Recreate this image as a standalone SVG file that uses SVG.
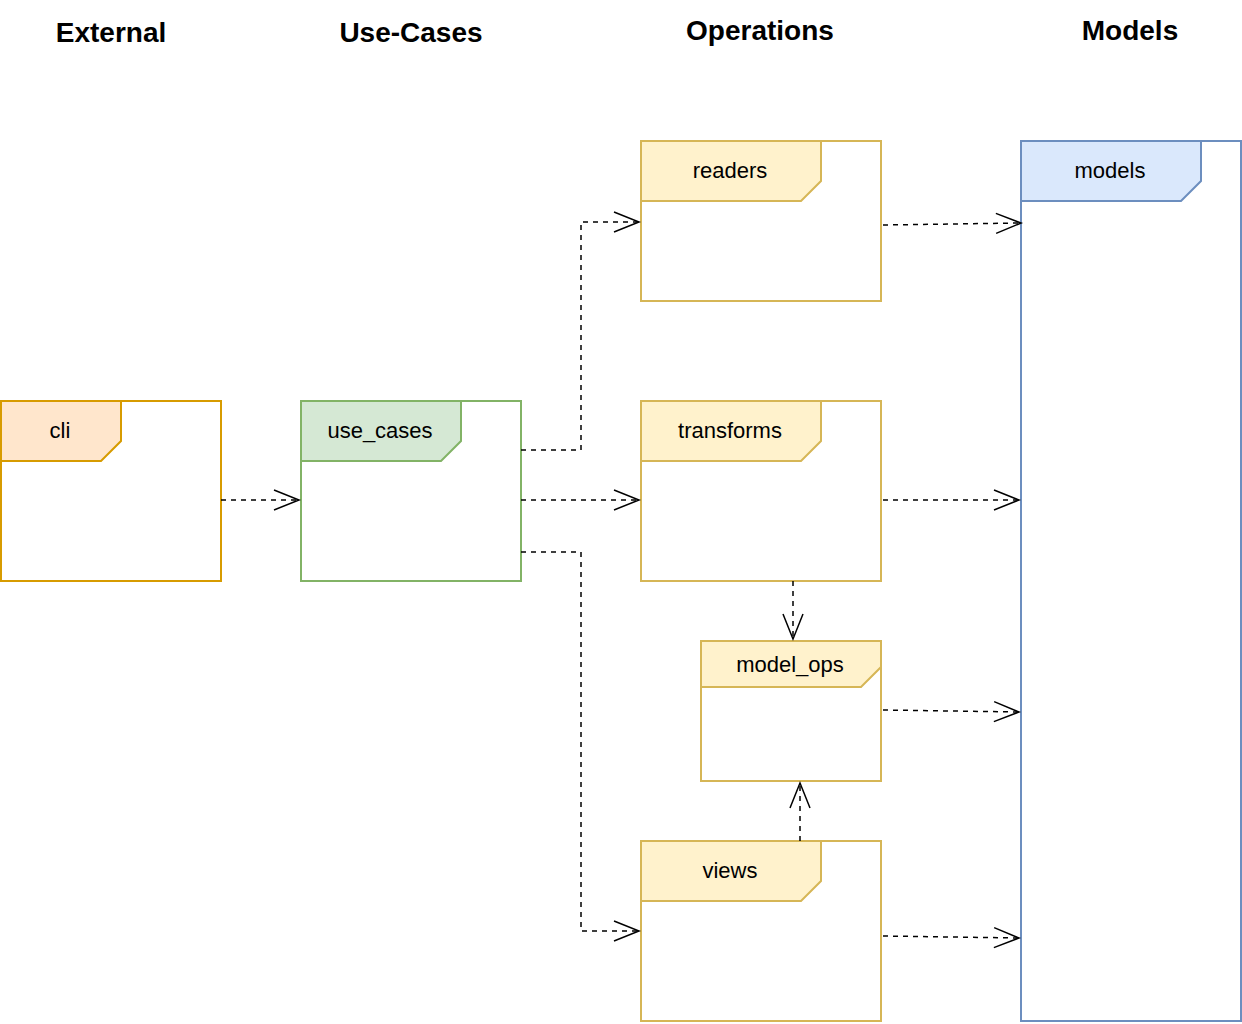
<svg xmlns="http://www.w3.org/2000/svg" width="1242" height="1024" viewBox="0 0 1242 1024">
<style>
.t{font-family:"Liberation Sans",Arial,sans-serif;font-weight:bold;font-size:28px;fill:#000;text-anchor:middle}
.l{font-family:"Liberation Sans",Arial,sans-serif;font-size:22px;fill:#000;text-anchor:middle}
.y{fill:#fff;stroke:#d6b656;stroke-width:2}
.yl{fill:#fff2cc;stroke:#d6b656;stroke-width:2}
.c{fill:none;stroke:#000;stroke-width:1.5;stroke-dasharray:5 5}
</style>
<defs>
<marker id="a" markerWidth="30" markerHeight="24" refX="27" refY="12" orient="auto" markerUnits="userSpaceOnUse">
<path d="M2,2 L27,12 L2,22" fill="none" stroke="#000" stroke-width="1.5"/>
</marker>
</defs>
<rect width="1242" height="1024" fill="#fff"/>
<text class="t" x="111" y="42">External</text>
<text class="t" x="411" y="42">Use-Cases</text>
<text class="t" x="760" y="40">Operations</text>
<text class="t" x="1130" y="40">Models</text>
<g id="cli"><rect x="1" y="401" width="220" height="180" fill="#fff" stroke="#d79b00" stroke-width="2"/><path d="M1,401H121V441L101,461H1Z" fill="#ffe6cc" stroke="#d79b00" stroke-width="2"/><text class="l" x="60" y="438">cli</text></g>
<g id="use_cases"><rect x="301" y="401" width="220" height="180" fill="#fff" stroke="#82b366" stroke-width="2"/><path d="M301,401H461V441L441,461H301Z" fill="#d5e8d4" stroke="#82b366" stroke-width="2"/><text class="l" x="380" y="438">use_cases</text></g>
<g id="readers"><rect class="y" x="641" y="141" width="240" height="160"/><path class="yl" d="M641,141H821V181L801,201H641Z"/><text class="l" x="730" y="178">readers</text></g>
<g id="transforms"><rect class="y" x="641" y="401" width="240" height="180"/><path class="yl" d="M641,401H821V441L801,461H641Z"/><text class="l" x="730" y="438">transforms</text></g>
<g id="model_ops"><rect class="y" x="701" y="641" width="180" height="140"/><path class="yl" d="M701,641H881V667L861,687H701Z"/><text class="l" x="790" y="672">model_ops</text></g>
<g id="views"><rect class="y" x="641" y="841" width="240" height="180"/><path class="yl" d="M641,841H821V881L801,901H641Z"/><text class="l" x="730" y="878">views</text></g>
<g id="models"><rect x="1021" y="141" width="220" height="880" fill="#fff" stroke="#6c8ebf" stroke-width="2"/><path d="M1021,141H1201V181L1181,201H1021Z" fill="#dae8fc" stroke="#6c8ebf" stroke-width="2"/><text class="l" x="1110" y="178">models</text></g>
<g id="connectors">
<path class="c" marker-end="url(#a)" d="M221,500H299"/>
<path class="c" marker-end="url(#a)" d="M521,450H581V222H639"/>
<path class="c" marker-end="url(#a)" d="M521,500H639"/>
<path class="c" marker-end="url(#a)" d="M521,552H581V931H639"/>
<path class="c" marker-end="url(#a)" d="M883,225L1021,223"/>
<path class="c" marker-end="url(#a)" d="M883,500H1019"/>
<path class="c" marker-end="url(#a)" d="M883,710L1019,712"/>
<path class="c" marker-end="url(#a)" d="M883,936L1019,938"/>
<path class="c" marker-end="url(#a)" d="M793,581V639"/>
<path class="c" marker-end="url(#a)" d="M800,841V783"/>
</g>
</svg>
